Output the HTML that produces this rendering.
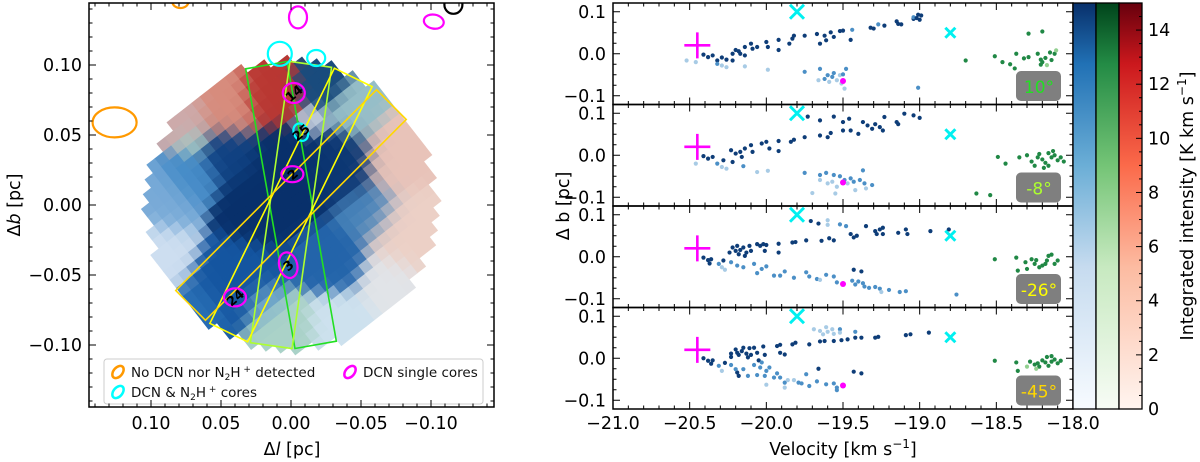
<!DOCTYPE html>
<html><head><meta charset="utf-8">
<style>
html,body{margin:0;padding:0;background:#fff;}
svg{display:block;font-family:"DejaVu Sans","Liberation Sans",sans-serif;}
</style></head>
<body>
<svg id="fig" width="1200" height="462" viewBox="0 0 1200 462" xmlns="http://www.w3.org/2000/svg">
<defs>
<clipPath id="clipL"><rect x="89" y="3" width="405" height="404"/></clipPath>
<linearGradient id="gBlue" x1="0" y1="1" x2="0" y2="0"><stop offset="0" stop-color="#f7fbff"/><stop offset="0.35" stop-color="#c6dbef"/><stop offset="0.6" stop-color="#6baed6"/><stop offset="0.85" stop-color="#2171b5"/><stop offset="1" stop-color="#08306b"/></linearGradient>
<linearGradient id="gGreen" x1="0" y1="1" x2="0" y2="0"><stop offset="0" stop-color="#f7fcf5"/><stop offset="0.35" stop-color="#c7e9c0"/><stop offset="0.6" stop-color="#74c476"/><stop offset="0.85" stop-color="#238b45"/><stop offset="1" stop-color="#00441b"/></linearGradient>
<linearGradient id="gRed" x1="0" y1="1" x2="0" y2="0"><stop offset="0" stop-color="#fff5f0"/><stop offset="0.35" stop-color="#fcbba1"/><stop offset="0.6" stop-color="#fb6a4a"/><stop offset="0.85" stop-color="#cb181d"/><stop offset="1" stop-color="#67000d"/></linearGradient>
</defs>
<g id="mapLayer" clip-path="url(#clipL)"></g>
<g id="leftOver" clip-path="url(#clipL)"></g>
<g id="leftAxes"></g>
<g id="rightAxes"></g>
<g id="cbar"></g>
</svg>
<script>
const NS='http://www.w3.org/2000/svg';
function mk(tag,attrs,parent,text){const e=document.createElementNS(NS,tag);for(const k in attrs)e.setAttribute(k,attrs[k]);if(text!==undefined)e.textContent=text;(parent||document.getElementById('fig')).appendChild(e);return e;}
const FS=17.5;
/* ---------- LEFT MAP ---------- */
const LX0=89,LX1=494,LY0=3,LY1=407,LCX=291,LCY=205,LS=1400;
const lx=l=>LCX-l*LS, ly=b=>LCY-b*LS;
const mapG=document.getElementById('mapLayer');
// colour regions for the image-like map [l, b, sigma(pc), color, weight]
const blobs=[
 [0.00,0.025,0.028,[8,48,107],1.0],[0.025,0.0,0.022,[8,48,107],1.0],[-0.035,0.03,0.022,[12,55,115],1.0],[0.045,0.035,0.02,[15,65,130],0.9],
 [0.04,-0.055,0.025,[20,85,160],1.0],[0.065,-0.075,0.018,[40,110,180],0.9],[-0.03,-0.04,0.02,[35,100,170],0.9],
 [0.015,0.078,0.018,[185,55,50],1.1],[0.045,0.07,0.02,[215,140,125],1.0],[0.075,0.06,0.018,[205,170,170],0.9],
 [-0.02,0.085,0.015,[25,75,125],1.0],[-0.045,0.065,0.018,[150,190,200],0.9],[-0.015,0.06,0.012,[200,210,225],0.8],
 [-0.075,0.035,0.022,[232,195,185],1.0],[-0.085,-0.02,0.025,[236,208,198],1.0],[-0.07,-0.055,0.02,[225,228,232],0.9],
 [0.09,0.0,0.02,[120,170,215],0.9],[0.095,-0.035,0.022,[205,222,240],1.0],[0.07,0.02,0.018,[70,140,200],0.9],
 [-0.035,-0.085,0.02,[205,225,238],1.0],[0.005,-0.09,0.02,[170,210,200],1.0],[0.02,-0.07,0.015,[120,175,210],0.8],
 [0.07,0.045,0.012,[160,205,200],0.8],[-0.055,-0.005,0.02,[70,130,185],0.8]
];
(function(){
 const g=mk('g',{transform:`rotate(-38 ${LCX} ${LCY})`},mapG);
 const sz=10.5,a=38*Math.PI/180;
 for(let i=-15;i<=15;i++)for(let j=-15;j<=15;j++){
  const cx=i*sz, cy=j*sz;
  if(cx*cx+cy*cy>143*143)continue;
  const px=LCX+cx*Math.cos(a)+cy*Math.sin(a), py=LCY-cx*Math.sin(a)+cy*Math.cos(a);
  const l=(LCX-px)/LS,b=(LCY-py)/LS;
  let w0=1e-6,c=[0,0,0];
  for(const bl of blobs){const d2=(l-bl[0])**2+(b-bl[1])**2;let w=bl[4]*Math.exp(-d2/(2*bl[2]*bl[2]));w=Math.pow(w,4);w0+=w;c[0]+=w*bl[3][0];c[1]+=w*bl[3][1];c[2]+=w*bl[3][2];}
  const col=`rgb(${Math.round(c[0]/w0)},${Math.round(c[1]/w0)},${Math.round(c[2]/w0)})`;
  const r=mk('rect',{x:LCX+cx-sz/2,y:LCY+cy-sz/2,width:sz+0.4,height:sz+0.4,fill:col},g);
  
  
 }
})();
const over=document.getElementById('leftOver');
const slitAngles=[10,-8,-26,-45];
const slitColors=['#22e022','#adff2f','#ffff00','#ffd700'];
const slitNames=['slit-10deg','slit-minus8deg','slit-minus26deg','slit-minus45deg'];
slitAngles.forEach((ang,i)=>{
 const r=mk('rect',{x:LCX-21,y:LCY-142,width:42,height:284,fill:'none',stroke:slitColors[i],'stroke-width':1.6,transform:`rotate(${-ang} ${LCX} ${LCY})`},over);
 
 
});
const cores=[
 [-0.002,0.080,11,10,0,'#ff00ff','14'],[-0.001,0.022,11,8,0,'#ff00ff','2'],[0.002,-0.043,9,13,-15,'#ff00ff','3'],
 [0.040,-0.066,11,9,0,'#ff00ff','24'],[-0.005,0.134,9,11,0,'#ff00ff',''],[-0.102,0.131,10,7,10,'#ff00ff',''],
 [0.008,0.108,12,12,0,'#00ffff',''],[-0.018,0.105,9,8,0,'#00ffff',''],[-0.007,0.052,7,9,-25,'#00ffff','25'],
 [0.126,0.059,22,15,0,'#ff9900',''],[0.079,0.145,8,6,0,'#ff9900',''],[-0.116,0.143,9,9,0,'#000000','']
];
cores.forEach(c=>{
 const x=lx(c[0]),y=ly(c[1]);
 const e=mk('ellipse',{cx:x,cy:y,rx:c[2],ry:c[3],fill:'none',stroke:c[5],'stroke-width':2.2,transform:`rotate(${c[4]} ${x} ${y})`},over);
 
 
 if(c[6]){const t=mk('text',{x:x,y:y+5,'font-size':13,'font-weight':'bold','text-anchor':'middle',fill:'#000',transform:`rotate(-40 ${x} ${y})`},over,c[6]);
  
  }
});
(function(){
 const g=mk('g',{},over);
 
 
 mk('rect',{x:104,y:359,width:379,height:45,rx:3,fill:'#fff','fill-opacity':0.9,stroke:'#ccc'},g);
 const items=[[118,372,'#ff9900','No DCN nor N','2','H',' detected'],[350,372,'#ff00ff','DCN single cores'],[118,392,'#00ffff','DCN & N','2','H',' cores']];
 items.forEach(it=>{
  const e=mk('ellipse',{cx:it[0],cy:it[1],rx:7,ry:4.5,fill:'none',stroke:it[2],'stroke-width':2.5,transform:`rotate(-50 ${it[0]} ${it[1]})`},g);
  
  
  const t=mk('text',{x:it[0]+13,y:it[1]+5,'font-size':13.5,fill:'#111'},g);
  
  
  if(it.length===4){t.textContent=it[3];}
  else{t.appendChild(document.createTextNode(it[3]));
   mk('tspan',{'font-size':9,dy:3},t,it[4]);mk('tspan',{dy:-3},t,it[5]);
   mk('tspan',{'font-size':9,dy:-5},t,' +');mk('tspan',{dy:5},t,' '+it[6]);}
 });
})();
(function(){
 const g=document.getElementById('leftAxes');
 
 
 mk('rect',{x:LX0,y:LY0,width:LX1-LX0,height:LY1-LY0,fill:'none',stroke:'#000','stroke-width':1.5},g);
 const xt=[0.10,0.05,0.00,-0.05,-0.10], xl=['0.10','0.05','0.00','\u22120.05','\u22120.10'];
 for(let k=-14;k<=14;k++){const v=k/100,x=lx(v);if(x<LX0||x>LX1)continue;const L=(k%5===0)?7:3.5;
  mk('line',{x1:x,y1:LY1,x2:x,y2:LY1-L,stroke:'#000'},g);mk('line',{x1:x,y1:LY0,x2:x,y2:LY0+L,stroke:'#000'},g);
  const y=ly(v);if(y<LY0||y>LY1)continue;
  mk('line',{x1:LX0,y1:y,x2:LX0+L,y2:y,stroke:'#000'},g);mk('line',{x1:LX1,y1:y,x2:LX1-L,y2:y,stroke:'#000'},g);}
 xt.forEach((v,i)=>{const t=mk('text',{x:lx(v),y:429,'font-size':FS,'text-anchor':'middle'},g,xl[i]);
  const u=mk('text',{x:82,y:ly(v)+6,'font-size':FS,'text-anchor':'end'},g,xl[i]);});
 const xa=mk('text',{x:292,y:455,'font-size':FS,'text-anchor':'middle'},g);
 xa.appendChild(document.createTextNode('\u0394'));mk('tspan',{'font-style':'italic'},xa,'l');xa.appendChild(document.createTextNode(' [pc]'));
 const ya=mk('text',{x:20,y:205,'font-size':FS,'text-anchor':'middle',transform:'rotate(-90 20 205)'},g);
 ya.appendChild(document.createTextNode('\u0394'));mk('tspan',{'font-style':'italic'},ya,'b');ya.appendChild(document.createTextNode(' [pc]'));
})();

/* ---------- RIGHT PV PANELS ---------- */
const panel1=[[-20.41,-0.002,'d'],[-20.38,-0.008,'d'],[-20.35,-0.004,'d'],[-20.32,-0.016,'d'],[-20.29,-0.009,'d'],[-20.26,-0.014,'d'],[-20.22,0.0,'d'],[-20.22,-0.016,'d'],[-20.20,0.009,'d'],[-20.18,0.006,'d'],[-20.17,0.0,'d'],[-20.14,0.016,'d'],[-20.14,-0.004,'d'],[-20.10,0.024,'d'],[-20.09,0.012,'d'],[-20.06,0.016,'d'],[-20.00,0.028,'d'],[-19.99,0.016,'d'],[-19.92,0.033,'d'],[-19.92,0.009,'d'],[-19.85,0.024,'d'],[-19.83,0.036,'d'],[-19.82,0.043,'d'],[-19.75,0.043,'d'],[-19.67,0.047,'d'],[-19.65,0.024,'d'],[-19.62,0.043,'d'],[-19.61,0.032,'d'],[-19.58,0.051,'d'],[-19.56,0.040,'d'],[-19.52,0.054,'d'],[-19.50,0.055,'d'],[-19.45,0.033,'d'],[-19.44,0.057,'m'],[-19.32,0.062,'d'],[-19.30,0.060,'d'],[-19.27,0.070,'m'],[-19.23,0.067,'d'],[-19.15,0.077,'d'],[-19.14,0.071,'d'],[-19.12,0.070,'d'],[-19.04,0.083,'d'],[-19.04,0.087,'m'],[-19.02,0.085,'d'],[-19.01,0.093,'d'],[-19.00,0.081,'d'],[-18.99,0.091,'d'],
 [-20.52,-0.016,'l'],[-20.46,-0.02,'l'],[-20.32,-0.024,'m'],[-20.29,-0.028,'l'],[-20.26,-0.032,'l'],[-20.14,-0.03,'l'],[-19.99,-0.038,'l'],[-19.75,-0.043,'m'],[-19.65,-0.036,'m'],[-19.66,-0.063,'l'],[-19.62,-0.06,'m'],[-19.60,-0.051,'m'],[-19.59,-0.067,'l'],[-19.57,-0.055,'m'],[-19.56,-0.046,'m'],[-19.54,-0.063,'l'],[-19.52,-0.051,'l'],[-19.51,-0.071,'l'],[-19.50,-0.049,'m'],[-19.48,-0.036,'m'],[-19.49,-0.083,'l'],[-19.01,-0.081,'m'],
 [-18.70,-0.016,'g'],[-18.51,-0.006,'g'],[-18.46,-0.02,'g'],[-18.41,-0.025,'g'],[-18.38,-0.035,'g'],[-18.29,0.048,'g'],[-18.20,0.053,'g'],[-18.37,0.0,'g'],[-18.29,-0.008,'g'],[-18.23,0.0,'g'],[-18.21,-0.014,'g'],[-18.20,-0.02,'g'],[-18.18,-0.01,'g'],[-18.15,0.003,'g'],[-18.14,-0.015,'g'],[-18.12,0.0,'g'],[-18.32,-0.011,'g'],[-18.11,0.008,'h'],[-18.21,-0.026,'g'],[-18.17,-0.027,'h']];
const panel2=[[-20.41,-0.002,'d'],[-20.38,-0.008,'d'],[-20.35,-0.004,'d'],[-20.28,-0.012,'d'],[-20.23,0.012,'d'],[-20.22,-0.016,'d'],[-20.20,0.004,'d'],[-20.17,0.008,'d'],[-20.16,-0.004,'d'],[-20.14,0.016,'d'],[-20.10,0.024,'d'],[-20.09,0.008,'d'],[-20.03,0.028,'d'],[-20.00,0.032,'d'],[-19.98,0.016,'d'],[-19.92,0.034,'d'],[-19.92,0.01,'d'],[-19.84,0.032,'d'],[-19.82,0.037,'d'],[-19.75,0.043,'d'],[-19.73,0.092,'d'],[-19.65,0.083,'d'],[-19.65,0.047,'d'],[-19.60,0.043,'d'],[-19.58,0.053,'d'],[-19.56,0.092,'d'],[-19.50,0.079,'d'],[-19.50,0.059,'d'],[-19.46,0.087,'d'],[-19.45,0.059,'d'],[-19.40,0.051,'d'],[-19.37,0.079,'d'],[-19.34,0.071,'d'],[-19.31,0.063,'d'],[-19.29,0.074,'d'],[-19.26,0.067,'d'],[-19.24,0.059,'d'],[-19.23,0.091,'d'],[-19.15,0.079,'d'],[-19.14,0.074,'d'],[-19.10,0.099,'d'],[-19.04,0.095,'d'],[-19.00,0.089,'d'],
 [-20.46,-0.02,'l'],[-20.32,-0.02,'m'],[-20.29,-0.028,'l'],[-20.26,-0.032,'l'],[-20.15,-0.026,'m'],[-20.06,-0.04,'l'],[-19.99,-0.037,'l'],[-19.75,-0.042,'m'],[-19.65,-0.047,'m'],[-19.65,-0.059,'l'],[-19.61,-0.042,'m'],[-19.60,-0.067,'l'],[-19.56,-0.047,'m'],[-19.52,-0.05,'m'],[-19.54,-0.075,'l'],[-19.49,-0.059,'m'],[-19.47,-0.067,'l'],[-19.45,-0.055,'m'],[-19.43,-0.063,'m'],[-19.42,-0.083,'l'],[-19.39,-0.059,'m'],[-19.37,-0.036,'m'],[-19.36,-0.067,'m'],[-19.35,-0.079,'l'],[-19.31,-0.071,'m'],[-19.57,-0.063,'l'],[-19.70,-0.09,'l'],[-19.55,-0.091,'l'],
 [-18.63,-0.091,'g'],[-18.54,-0.095,'g'],[-18.49,-0.004,'g'],[-18.44,-0.02,'g'],[-18.35,-0.005,'g'],[-18.30,0.0,'g'],[-18.27,-0.015,'g'],[-18.22,0.003,'g'],[-18.20,-0.01,'g'],[-18.18,-0.018,'g'],[-18.16,0.005,'g'],[-18.14,-0.005,'g'],[-18.12,0.0,'g'],[-18.10,-0.012,'g'],[-18.25,-0.025,'g'],[-18.19,-0.03,'g'],[-18.13,0.01,'g'],[-18.23,-0.005,'g'],[-18.16,-0.025,'g'],[-18.08,-0.005,'g'],[-18.06,-0.015,'g'],[-18.30,-0.07,'h'],[-18.32,-0.06,'h']];
const panel3=[[-20.41,-0.002,'d'],[-20.38,-0.008,'d'],[-20.36,-0.006,'d'],[-20.37,-0.016,'d'],[-20.28,-0.009,'d'],[-20.24,0.01,'d'],[-20.22,0.022,'d'],[-20.20,0.014,'d'],[-20.19,0.026,'d'],[-20.18,0.006,'d'],[-20.17,0.016,'d'],[-20.15,0.022,'d'],[-20.14,0.002,'d'],[-20.13,0.01,'d'],[-20.11,0.026,'d'],[-20.10,0.014,'d'],[-20.06,0.03,'d'],[-20.04,0.026,'d'],[-20.02,0.03,'d'],[-20.01,0.014,'d'],[-20.00,0.028,'d'],[-19.92,0.031,'d'],[-19.92,0.01,'d'],[-19.83,0.034,'d'],[-19.81,0.035,'d'],[-19.74,0.039,'d'],[-19.64,0.038,'d'],[-19.59,0.044,'d'],[-19.56,0.039,'d'],[-19.71,0.085,'d'],[-19.66,0.079,'d'],[-19.45,0.054,'d'],[-19.43,0.046,'d'],[-19.41,0.05,'d'],[-19.35,0.073,'d'],[-19.29,0.061,'d'],[-19.28,0.054,'d'],[-19.26,0.065,'d'],[-19.24,0.069,'d'],[-19.24,0.054,'d'],[-19.14,0.057,'d'],[-19.09,0.065,'d'],[-19.08,0.054,'d'],[-18.93,0.061,'d'],[-18.81,0.065,'d'],[-18.76,-0.09,'m'],[-19.43,-0.031,'d'],[-19.38,-0.035,'d'],
 [-20.31,-0.017,'m'],[-20.29,-0.025,'l'],[-20.27,-0.031,'l'],[-20.23,-0.013,'m'],[-20.19,-0.021,'m'],[-20.15,-0.025,'m'],[-20.08,-0.017,'m'],[-20.06,-0.039,'m'],[-20.03,-0.029,'m'],[-20.00,-0.023,'m'],[-19.95,-0.045,'m'],[-19.91,-0.045,'m'],[-19.88,-0.035,'m'],[-19.82,-0.05,'m'],[-19.74,-0.037,'m'],[-19.72,-0.047,'m'],[-19.67,-0.053,'m'],[-19.65,-0.055,'l'],[-19.61,-0.043,'m'],[-19.56,-0.047,'m'],[-19.54,-0.061,'m'],[-19.44,-0.057,'m'],[-19.42,-0.066,'m'],[-19.40,-0.059,'m'],[-19.37,-0.063,'m'],[-19.36,-0.071,'m'],[-19.33,-0.074,'m'],[-19.29,-0.072,'m'],[-19.26,-0.076,'m'],[-19.25,-0.084,'l'],[-19.20,-0.079,'m'],[-19.13,-0.084,'m'],[-19.09,-0.082,'m'],[-19.60,0.087,'l'],[-19.60,0.076,'l'],[-19.52,0.077,'m'],[-19.48,0.073,'m'],
 [-18.51,-0.006,'g'],[-18.37,-0.002,'g'],[-18.36,-0.033,'g'],[-18.31,-0.013,'g'],[-18.30,-0.029,'g'],[-18.27,-0.006,'g'],[-18.25,-0.017,'g'],[-18.24,-0.008,'g'],[-18.22,-0.025,'g'],[-18.20,-0.021,'g'],[-18.18,-0.017,'g'],[-18.17,-0.009,'g'],[-18.16,0.002,'g'],[-18.14,0.005,'g'],[-18.12,-0.017,'g'],[-18.10,-0.009,'g']];
const panel4=[[-20.41,0.0,'d'],[-20.38,-0.006,'d'],[-20.36,-0.013,'d'],[-20.35,-0.005,'d'],[-20.27,-0.011,'d'],[-20.23,0.011,'d'],[-20.23,0.003,'d'],[-20.20,0.021,'d'],[-20.19,0.013,'d'],[-20.18,0.008,'d'],[-20.16,0.017,'d'],[-20.15,0.025,'d'],[-20.13,0.011,'d'],[-20.12,0.002,'d'],[-20.11,0.024,'d'],[-20.10,0.008,'d'],[-20.08,0.025,'d'],[-20.06,0.013,'d'],[-20.05,-0.005,'d'],[-20.02,0.028,'d'],[-20.01,0.008,'d'],[-19.93,0.029,'d'],[-19.91,0.032,'d'],[-19.91,0.013,'d'],[-19.88,0.009,'d'],[-19.83,0.033,'d'],[-19.81,0.037,'d'],[-19.72,0.033,'d'],[-19.65,0.04,'d'],[-19.62,0.041,'d'],[-19.56,0.041,'d'],[-19.51,0.043,'d'],[-19.47,0.045,'d'],[-19.42,0.049,'d'],[-19.38,0.049,'d'],[-19.29,0.049,'d'],[-19.27,0.051,'d'],[-19.09,0.055,'d'],[-19.06,0.057,'d'],[-18.94,0.061,'d'],[-19.66,-0.025,'d'],[-19.43,-0.032,'d'],[-19.38,-0.036,'d'],[-20.19,-0.034,'d'],[-20.18,-0.042,'d'],
 [-20.31,-0.018,'m'],[-20.29,-0.03,'l'],[-20.23,-0.016,'m'],[-20.20,-0.026,'m'],[-20.15,-0.026,'m'],[-20.12,-0.042,'m'],[-20.08,-0.016,'m'],[-20.06,-0.04,'m'],[-20.04,-0.022,'m'],[-20.03,-0.01,'m'],[-20.01,-0.042,'m'],[-20.00,-0.03,'m'],[-19.98,-0.022,'m'],[-19.95,-0.046,'m'],[-19.93,-0.036,'m'],[-19.91,-0.046,'m'],[-19.88,-0.058,'m'],[-19.86,-0.052,'l'],[-19.82,-0.052,'l'],[-19.79,-0.058,'m'],[-19.77,-0.06,'m'],[-19.74,-0.038,'m'],[-19.72,-0.066,'m'],[-19.67,-0.055,'m'],[-19.61,-0.062,'m'],[-19.56,-0.06,'m'],[-19.54,-0.07,'m'],[-19.54,-0.076,'m'],[-20.00,-0.063,'l'],[-19.88,-0.07,'l'],
 [-19.69,0.069,'l'],[-19.65,0.065,'l'],[-19.63,0.057,'l'],[-19.61,0.074,'l'],[-19.60,0.063,'l'],[-19.57,0.069,'l'],[-19.56,0.058,'l'],[-19.52,0.069,'m'],[-19.52,0.061,'l'],[-19.42,0.063,'m'],
 [-18.51,-0.006,'g'],[-18.37,-0.01,'g'],[-18.36,-0.03,'g'],[-18.30,-0.02,'h'],[-18.28,-0.008,'g'],[-18.25,-0.015,'g'],[-18.23,-0.012,'g'],[-18.22,-0.02,'g'],[-18.20,-0.005,'g'],[-18.18,-0.01,'g'],[-18.16,-0.018,'g'],[-18.14,-0.008,'g'],[-18.12,-0.003,'g'],[-18.10,-0.012,'g'],[-18.08,-0.006,'g'],[-18.17,0.003,'g'],[-18.14,0.005,'g'],[-18.24,-0.025,'h']];
const panels=[panel1,panel2,panel3,panel4];
const angleLabels=['10\u00b0','-8\u00b0','-26\u00b0','-45\u00b0'];
const xTicks=[-21.0,-20.5,-20.0,-19.5,-19.0,-18.5,-18.0];
const xTickLabels=['\u221221.0','\u221220.5','\u221220.0','\u221219.5','\u221219.0','\u221218.5','\u221218.0'];
const yTicks=[0.1,0.0,-0.1];
const yTickLabels=['0.1','0.0','\u22120.1'];
const plusMarker=[-20.45,0.02];
const bigCross=[-19.8,0.1];
const smallCross=[-18.8,0.05];
const magentaDot=[-19.5,-0.065];
const cbTicks=[0,2,4,6,8,10,12,14];

const RX0=613,RX1=1073,PH=101.5,PT=3;
const vx=v=>RX0+(v+21)*(RX1-RX0)/3;
const pcol={d:'#0e3d78',m:'#4b8fc6',l:'#a8cbe5',g:'#208845',h:'#92d090'};
(function(){
 const G=document.getElementById('rightAxes');
 panels.forEach((pts,pi)=>{
  const top=PT+pi*PH, by=b=>top+PH/2-b*420;
  const g=mk('g',{},G);
  
  
  pts.forEach(p=>{const c=mk('circle',{cx:vx(p[0]),cy:by(p[1]),r:2.1,fill:pcol[p[2]]},g);
   
   });
  const px=vx(plusMarker[0]),py=by(plusMarker[1]);
  const pl=mk('path',{d:`M${px-13} ${py}H${px+13}M${px} ${py-13}V${py+13}`,stroke:'#ff00ff','stroke-width':2.6,fill:'none'},g);
  
  [[bigCross,7],[smallCross,5]].forEach(([m,s])=>{const x=vx(m[0]),y=by(m[1]);
   const c=mk('path',{d:`M${x-s} ${y-s}L${x+s} ${y+s}M${x-s} ${y+s}L${x+s} ${y-s}`,stroke:'#00f0f0','stroke-width':3,fill:'none'},g);
   });
  const md=mk('circle',{cx:vx(magentaDot[0]),cy:by(magentaDot[1]),r:3,fill:'#ff00ff'},g);
  
  const bg=mk('g',{},g);
  
  
  mk('rect',{x:1016,y:top+68,width:45,height:30,rx:5,fill:'#7f7f7f'},bg);
  mk('text',{x:1039,y:top+90,'font-size':17,'text-anchor':'middle',fill:slitColors[pi]},bg,angleLabels[pi]);
  mk('rect',{x:RX0,y:top,width:RX1-RX0,height:PH,fill:'none',stroke:'#000','stroke-width':1.5},g);
  for(let k=0;k<=30;k++){const x=RX0+k*(RX1-RX0)/30,L=k%5===0?7:3.5;
   mk('line',{x1:x,y1:top,x2:x,y2:top+L,stroke:'#000'},g);mk('line',{x1:x,y1:top+PH,x2:x,y2:top+PH-L,stroke:'#000'},g);}
  for(let k=-5;k<=5;k++){const y=by(k*0.025),L=k%4===0?7:3.5;if(y<top||y>top+PH)continue;
   mk('line',{x1:RX0,y1:y,x2:RX0+L,y2:y,stroke:'#000'},g);mk('line',{x1:RX1,y1:y,x2:RX1-L,y2:y,stroke:'#000'},g);}
  yTicks.forEach((v,i)=>{const t=mk('text',{x:606,y:by(v)+6,'font-size':FS,'text-anchor':'end'},g,yTickLabels[i]);
   });
 });
 xTicks.forEach((v,i)=>{const t=mk('text',{x:vx(v),y:429,'font-size':FS,'text-anchor':'middle'},G,xTickLabels[i]);
  });
 const xt=mk('text',{x:843,y:455,'font-size':FS,'text-anchor':'middle'},G);
 
 xt.appendChild(document.createTextNode('Velocity [km s'));mk('tspan',{'font-size':12,dy:-7},xt,'\u22121');mk('tspan',{dy:7},xt,']');
 const yt=mk('text',{x:569,y:206,'font-size':FS,'text-anchor':'middle',transform:'rotate(-90 569 206)'},G,'\u0394 b [pc]');
 
})();
(function(){
 const G=document.getElementById('cbar');
 
 
 const y0=3,y1=409,vmax=15;
 [['gBlue',1073],['gGreen',1096],['gRed',1119]].forEach(([id,x])=>{
  const r=mk('rect',{x:x,y:y0,width:23,height:y1-y0,fill:`url(#${id})`,stroke:'#000','stroke-width':1.3},G);
  });
 const cy=v=>y1-v*(y1-y0)/vmax;
 for(let k=0;k<=30;k++){const v=k/2,y=cy(v),L=(k%4===0)?6:3;mk('line',{x1:1142,y1:y,x2:1142-L,y2:y,stroke:'#000'},G);}
 cbTicks.forEach(v=>{const t=mk('text',{x:1148,y:cy(v)+6,'font-size':FS},G,String(v));
  });
 const t=mk('text',{x:1193,y:206,'font-size':FS,'text-anchor':'middle',transform:'rotate(-90 1193 206)'},G);
 
 t.appendChild(document.createTextNode('Integrated intensity [K km s'));mk('tspan',{'font-size':12,dy:-7},t,'\u22121');mk('tspan',{dy:7},t,']');
})();
</script>
</body></html>
